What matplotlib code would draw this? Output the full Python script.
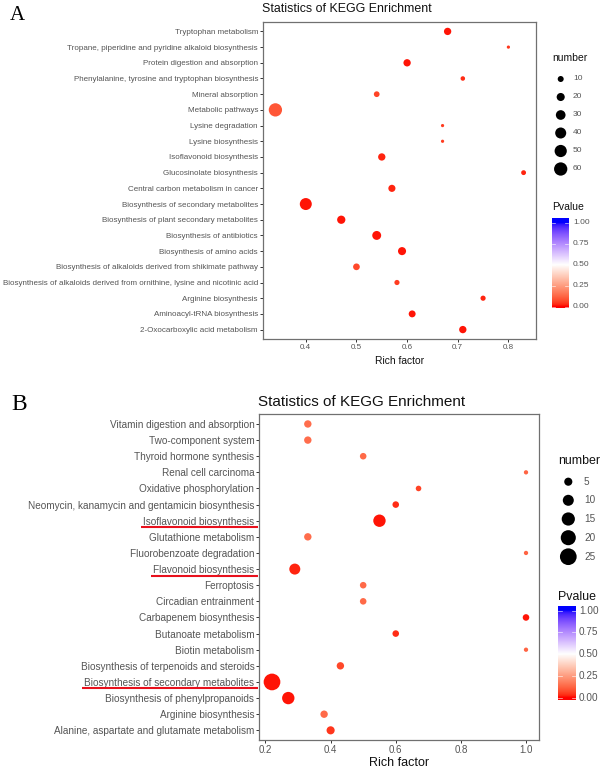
import numpy as np
import matplotlib
matplotlib.use("Agg")
import matplotlib.pyplot as plt
from matplotlib.colors import ListedColormap, Normalize

# ---------------- data ----------------
a_pathways = [
    "Tryptophan metabolism",
    "Tropane, piperidine and pyridine alkaloid biosynthesis",
    "Protein digestion and absorption",
    "Phenylalanine, tyrosine and tryptophan biosynthesis",
    "Mineral absorption",
    "Metabolic pathways",
    "Lysine degradation",
    "Lysine biosynthesis",
    "Isoflavonoid biosynthesis",
    "Glucosinolate biosynthesis",
    "Central carbon metabolism in cancer",
    "Biosynthesis of secondary metabolites",
    "Biosynthesis of plant secondary metabolites",
    "Biosynthesis of antibiotics",
    "Biosynthesis of amino acids",
    "Biosynthesis of alkaloids derived from shikimate pathway",
    "Biosynthesis of alkaloids derived from ornithine, lysine and nicotinic acid",
    "Arginine biosynthesis",
    "Aminoacyl-tRNA biosynthesis",
    "2-Oxocarboxylic acid metabolism",
]
a_rich = [0.68, 0.80, 0.60, 0.71, 0.54, 0.34, 0.67, 0.67, 0.55, 0.83,
          0.57, 0.40, 0.47, 0.54, 0.59, 0.50, 0.58, 0.75, 0.61, 0.71]
a_number = [16, 2, 16, 5, 9, 60, 2, 2, 16, 6,
            15, 48, 21, 25, 20, 13, 7, 7, 14, 16]
a_pvalue = [0.01, 0.04, 0.01, 0.03, 0.06, 0.09, 0.05, 0.05, 0.02, 0.02,
            0.02, 0.01, 0.01, 0.01, 0.01, 0.07, 0.05, 0.02, 0.01, 0.01]
a_xticks = [0.4, 0.5, 0.6, 0.7, 0.8]
a_number_breaks = [10, 20, 30, 40, 50, 60]

b_pathways = [
    "Vitamin digestion and absorption",
    "Two-component system",
    "Thyroid hormone synthesis",
    "Renal cell carcinoma",
    "Oxidative phosphorylation",
    "Neomycin, kanamycin and gentamicin biosynthesis",
    "Isoflavonoid biosynthesis",
    "Glutathione metabolism",
    "Fluorobenzoate degradation",
    "Flavonoid biosynthesis",
    "Ferroptosis",
    "Circadian entrainment",
    "Carbapenem biosynthesis",
    "Butanoate metabolism",
    "Biotin metabolism",
    "Biosynthesis of terpenoids and steroids",
    "Biosynthesis of secondary metabolites",
    "Biosynthesis of phenylpropanoids",
    "Arginine biosynthesis",
    "Alanine, aspartate and glutamate metabolism",
]
b_rich = [0.33, 0.33, 0.50, 1.00, 0.67, 0.60, 0.55, 0.33, 1.00, 0.29,
          0.50, 0.50, 1.00, 0.60, 1.00, 0.43, 0.22, 0.27, 0.38, 0.40]
b_number = [4, 4, 3, 1, 2, 3, 13, 4, 1, 10,
            3, 3, 3, 3, 1, 4, 25, 13, 4, 5]
b_pvalue = [0.14, 0.14, 0.13, 0.12, 0.06, 0.03, 0.01, 0.14, 0.12, 0.02,
            0.13, 0.13, 0.01, 0.03, 0.12, 0.07, 0.01, 0.01, 0.13, 0.04]
b_xticks = [0.2, 0.4, 0.6, 0.8, 1.0]
b_xticklabels = ["0.2", "0.4", "0.6", "0.8", "1.0"]
b_number_breaks = [5, 10, 15, 20, 25]
b_highlight = ["Isoflavonoid biosynthesis", "Flavonoid biosynthesis",
               "Biosynthesis of secondary metabolites"]

p_breaks = [0.0, 0.25, 0.5, 0.75, 1.0]
p_labels = ["0.00", "0.25", "0.50", "0.75", "1.00"]

# ---------------- colour scale (Lab interpolation red-white-blue) ----------------
_M = np.array([[0.4124564, 0.3575761, 0.1804375],
               [0.2126729, 0.7151522, 0.0721750],
               [0.0193339, 0.1191920, 0.9503041]])
_WN = np.array([0.95047, 1.0, 1.08883])


def _to_lab(rgb):
    c = np.asarray(rgb, float)
    lin = np.where(c <= 0.04045, c / 12.92, ((c + 0.055) / 1.055) ** 2.4)
    xyz = _M @ lin / _WN
    d = 6 / 29
    f = np.where(xyz > d ** 3, np.cbrt(xyz), xyz / (3 * d * d) + 4 / 29)
    return np.array([116 * f[1] - 16, 500 * (f[0] - f[1]), 200 * (f[1] - f[2])])


def _from_lab(lab):
    L, a, b = lab
    fy = (L + 16) / 116
    fx = fy + a / 500
    fz = fy - b / 200
    d = 6 / 29
    f = np.array([fx, fy, fz])
    xyz = np.where(f > d, f ** 3, 3 * d * d * (f - 4 / 29)) * _WN
    lin = np.linalg.solve(_M, xyz)
    lin = np.clip(lin, 0, 1)
    c = np.where(lin <= 0.0031308, 12.92 * lin, 1.055 * lin ** (1 / 2.4) - 0.055)
    return np.clip(c, 0, 1)


_lo, _mid, _hi = _to_lab([1, 0, 0]), _to_lab([1, 1, 1]), _to_lab([0, 0, 1])
_cols = []
for t in np.linspace(0, 1, 256):
    if t <= 0.5:
        u = t / 0.5
        _cols.append(_from_lab(_lo + (_mid - _lo) * u))
    else:
        u = (t - 0.5) / 0.5
        _cols.append(_from_lab(_mid + (_hi - _mid) * u))
cmap = ListedColormap(_cols)
norm = Normalize(0, 1)

# ---------------- figure ----------------
W, H = 604, 769
DPI = 100
plt.rcParams['font.family'] = ['Liberation Sans', 'DejaVu Sans']
fig = plt.figure(figsize=(W / DPI, H / DPI), dpi=DPI)
fig.patch.set_facecolor('white')

TICK_COL = '#555555'


def px_axes(x0, y0, x1, y1):
    return fig.add_axes([x0 / W, 1 - y1 / H, (x1 - x0) / W, (y1 - y0) / H])


def marker_area(n, c0, c1):
    d_px = c0 + c1 * np.sqrt(np.asarray(n, float))
    return (d_px * 72.0 / DPI) ** 2


def panel(box, paths, rich, number, pval, xticks, xticklabels, c0, c1,
          ylab_fs, xtick_fs):
    ax = px_axes(*box)
    n = len(paths)
    ypos = np.arange(n)[::-1]
    ax.scatter(rich, ypos, s=marker_area(number, c0, c1), c=pval,
               cmap=cmap, norm=norm, edgecolors='none', zorder=3)
    lo, hi = min(rich), max(rich)
    pad = (hi - lo) * 0.05
    ax.set_xlim(lo - pad, hi + pad)
    ax.set_ylim(-0.6, n - 1 + 0.6)
    ax.set_yticks(ypos)
    ax.set_yticklabels(paths, fontsize=ylab_fs, color=TICK_COL)
    ax.set_xticks(xticks)
    ax.set_xticklabels(xticklabels, fontsize=xtick_fs, color=TICK_COL)
    ax.tick_params(axis='both', length=2.4, width=0.7, color='#333333', pad=1.2)
    for sp in ax.spines.values():
        sp.set_color('#707070')
        sp.set_linewidth(0.9)
    return ax


# Panel A
axA = panel((263, 22, 536, 339), a_pathways, a_rich, a_number, a_pvalue,
            a_xticks, [f"{v:.1f}" for v in a_xticks], 0.97, 1.59, 5.75, 5.8)
# Panel B
axB = panel((259.3, 414.3, 538.7, 740), b_pathways, b_rich, b_number, b_pvalue,
            b_xticks, b_xticklabels, 1.2, 3.1, 7.2, 7.0)

# overlay in pixel coordinates for titles, legends and annotations
ov = fig.add_axes([0, 0, 1, 1])
ov.set_xlim(0, W)
ov.set_ylim(H, 0)
ov.axis('off')
ov.patch.set_alpha(0)

# panel letters
ov.text(10, 19.5, "A", fontsize=15, family='Liberation Serif', va='baseline', ha='left')
ov.text(11, 410, "B", fontsize=17, family='Liberation Serif', va='baseline', ha='left')

# titles
ov.text(262, 12.5, "Statistics of KEGG Enrichment", fontsize=8.9, va='baseline', ha='left', color='#111111')
ov.text(258.5, 405.5, "Statistics of KEGG Enrichment", fontsize=11.0, va='baseline', ha='left', color='#111111')

# x axis titles
ov.text(399.5, 363.5, "Rich factor", fontsize=7.4, va='baseline', ha='center', color='#111111')
ov.text(399, 765.5, "Rich factor", fontsize=9.0, va='baseline', ha='center', color='#111111')


def legend(title_xy, dot_x, dot_ys, breaks, c0, c1, lab_x, fs_title, fs_lab,
           ptitle_xy, bar_x0, bar_x1, bar_ytop, bar_ybot, y0val, y1val, plab_x):
    ov.text(title_xy[0], title_xy[1], "number", fontsize=fs_title, va='baseline',
            ha='left', color='#111111')
    ov.scatter([dot_x] * len(breaks), dot_ys, s=marker_area(breaks, c0, c1),
               c='black', edgecolors='none', clip_on=False)
    for yy, bv in zip(dot_ys, breaks):
        ov.text(lab_x, yy, str(bv), fontsize=fs_lab, va='center', ha='left', color=TICK_COL)
    ov.text(ptitle_xy[0], ptitle_xy[1], "Pvalue", fontsize=fs_title, va='baseline',
            ha='left', color='#111111')
    ppu = (y0val - y1val)  # pixels per unit
    vtop = (y0val - bar_ytop) / ppu
    vbot = (y0val - bar_ybot) / ppu
    grad = np.linspace(vtop, vbot, 200).reshape(-1, 1)
    ov.imshow(grad, cmap=cmap, norm=norm, aspect='auto', origin='upper',
              extent=(bar_x0, bar_x1, bar_ybot, bar_ytop), interpolation='bilinear')
    tl = (bar_x1 - bar_x0) / 5
    for pb, pl in zip(p_breaks, p_labels):
        yy = y0val - pb * ppu
        ov.plot([bar_x0, bar_x0 + tl], [yy, yy], color='white', lw=0.5, alpha=0.8)
        ov.plot([bar_x1 - tl, bar_x1], [yy, yy], color='white', lw=0.5, alpha=0.8)
        ov.text(plab_x, yy, pl, fontsize=fs_lab, va='center', ha='left', color=TICK_COL)


legend((552, 61), 560.7, [79, 97, 115, 133, 151, 169], a_number_breaks, 0.97, 1.59,
       573, 7.5, 6.0, (552, 210.5), 551.7, 568.3, 218.3, 308, 306.7, 222.7, 573)
legend((558, 464), 568.3, [481.7, 500.3, 519, 537.7, 556.7], b_number_breaks, 1.2, 3.1,
       584, 8.9, 7.2, (558, 599.5), 558.3, 576, 606.7, 700, 697.7, 610.7, 579)

ov.set_xlim(0, W)
ov.set_ylim(H, 0)

# red underlines below highlighted pathway labels of panel B
fig.canvas.draw()
renderer = fig.canvas.get_renderer()
for lbl in axB.get_yticklabels():
    if lbl.get_text() in b_highlight:
        bb = lbl.get_window_extent(renderer)
        x0, x1 = bb.x0 - 2.5, bb.x1 + 4
        yy = H - bb.y0 + 0.5
        ov.plot([x0, x1], [yy, yy], color='#E8101C', lw=1.5, solid_capstyle='butt')

fig.savefig("out.png", dpi=DPI, facecolor='white')
